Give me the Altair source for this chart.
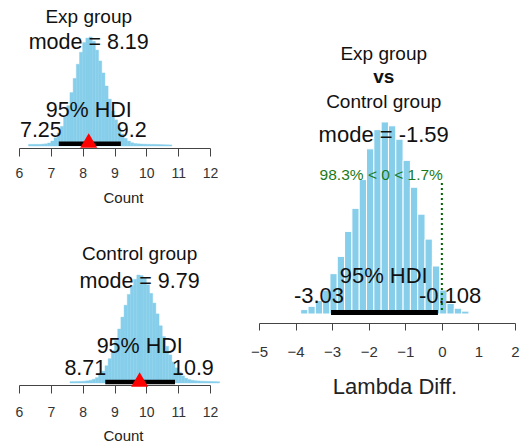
import altair as alt
import pandas as pd

FONT = "Liberation Sans"
SKY = "#87CEEB"
INK = "#111111"

# ---------------- data ----------------
exp_bin_lo = [6.3, 6.4, 6.5, 6.6, 6.7, 6.8, 6.9, 7.0, 7.1, 7.2, 7.3, 7.4, 7.5, 7.6, 7.7,
              7.8, 7.9, 8.0, 8.1, 8.2, 8.3, 8.4, 8.5, 8.6, 8.7, 8.8, 8.9, 9.0, 9.1, 9.2,
              9.3, 9.4, 9.5, 9.6, 9.7, 9.8, 9.9, 10.0, 10.1, 10.2, 10.3, 10.4, 10.5, 10.6, 10.7]
exp_counts = [1.5, 1.5, 1.5, 1.5, 1.7, 2, 2.8, 4.5, 7.5, 12, 18, 26.5, 37, 49, 62,
              75, 86, 95, 99, 100, 96, 88, 78, 67, 55, 43, 32, 24, 16.5, 11,
              7, 4.5, 3, 2.3, 2, 1.8, 1.7, 1.6, 1.5, 1.5, 1.4, 1.3, 1.2, 1.1, 1.0]
exp_bin_w = 0.1

ctrl_bin_lo = [7.6, 7.7, 7.8, 7.9, 8.0, 8.1, 8.2, 8.3, 8.4, 8.5, 8.6, 8.7, 8.8, 8.9, 9.0,
               9.1, 9.2, 9.3, 9.4, 9.5, 9.6, 9.7, 9.8, 9.9, 10.0, 10.1, 10.2, 10.3, 10.4,
               10.5, 10.6, 10.7, 10.8, 10.9, 11.0, 11.1, 11.2, 11.3, 11.4, 11.5, 11.6, 11.7,
               11.8, 11.9, 12.0, 12.1, 12.2]
ctrl_counts = [1.3, 1.3, 1.4, 1.5, 1.7, 2, 2.5, 3.5, 5, 7.6, 11, 16, 22.5, 30, 39.5,
               50, 61, 72, 82, 90, 96, 100, 99.5, 97, 91, 83, 74, 64, 53,
               43, 34, 26, 19.5, 14, 10, 6.6, 4.5, 3.2, 2.5, 2.1, 1.9, 1.7,
               1.6, 1.5, 1.4, 1.3, 1.2]
ctrl_bin_w = 0.1

diff_bin_lo = [-3.86, -3.66, -3.46, -3.26, -3.06, -2.86, -2.66, -2.46, -2.26, -2.06, -1.86,
               -1.66, -1.46, -1.26, -1.06, -0.86, -0.66, -0.46, -0.26, -0.06, 0.14, 0.34, 0.54]
diff_counts = [2.3, 4, 7, 12.5, 21, 30, 43, 55, 70, 86, 96,
               100, 98, 91, 80, 66, 52, 39, 25, 12.5, 5.5, 3, 1.5]
diff_bin_w = 0.2

exp_mode, exp_hdi = 8.19, (7.25, 9.2)
ctrl_mode, ctrl_hdi = 9.79, (8.71, 10.9)
diff_mode, diff_hdi = -1.59, (-3.03, -0.108)
comp_val = 0
pct_below, pct_above = 98.3, 1.7

left_ticks = [6, 7, 8, 9, 10, 11, 12]
right_ticks = [-5, -4, -3, -2, -1, 0, 1, 2]


def hist_df(lo, counts, w):
    return pd.DataFrame({"x": lo, "x2": [v + w for v in lo], "n": counts})


def one(v):
    return pd.DataFrame({"x": [v]})


def make_x(dom, ticks, title, title_size, label_size, label_pad, tick_size, offset, tx, ty):
    ax = alt.Axis(
        values=ticks, title=title, format="d", grid=False,
        labelFont=FONT, labelFontSize=label_size, labelColor="#333333",
        labelBaseline="alphabetic", labelPadding=label_pad, labelFlush=False,
        labelOverlap=False, tickSize=tick_size, tickColor="#444444",
        domainColor="#444444", tickWidth=1, domainWidth=1, offset=offset,
        titleFont=FONT, titleFontSize=title_size, titleFontWeight="normal",
        titleColor="#222222", titleX=tx, titleY=ty, titleBaseline="alphabetic",
        titleAlign="center",
    )
    return alt.X("x:Q", scale=alt.Scale(domain=dom, nice=False, zero=False), axis=ax)


def bars(df, xe, ymax, stroke, sw):
    return alt.Chart(df).mark_bar(color=SKY, stroke=stroke, strokeWidth=sw).encode(
        x=xe,
        x2="x2:Q",
        y=alt.Y("n:Q", scale=alt.Scale(domain=[0, ymax], nice=False), axis=None),
        y2=alt.datum(0),
    )


def txt(xe, v, s, y, size, align="center", dx=0, weight="normal", color=INK):
    return alt.Chart(one(v)).mark_text(
        text=s, font=FONT, fontSize=size, fontWeight=weight, color=color,
        align=align, baseline="alphabetic", dx=dx
    ).encode(x=xe, y=alt.value(y))


def hdi_rule(xe, lo, hi, y, w):
    return alt.Chart(pd.DataFrame({"x": [lo], "x2": [hi]})).mark_rule(
        color="black", strokeWidth=w, strokeCap="butt"
    ).encode(x=xe, x2="x2:Q", y=alt.value(y))


def mode_tri(xe, v, y):
    return alt.Chart(one(v)).mark_point(
        shape="triangle-up", filled=True, color="red", size=289, opacity=1, strokeWidth=0
    ).encode(x=xe, y=alt.value(y))


# ---------------- panel A: Exp group ----------------
xa = make_x([6, 12], left_ticks, "Count", 15, 14, 21, 8, 2, 104, 54)
A = alt.layer(
    bars(hist_df(exp_bin_lo, exp_counts, exp_bin_w), xa, 133.9, SKY, 0.4),
    hdi_rule(xa, exp_hdi[0], exp_hdi[1], 143.7, 4.5),
    txt(xa, exp_mode, "Exp group", 22.5, 19),
    txt(xa, exp_mode, f"mode = {exp_mode}", 48.5, 21.5),
    txt(xa, exp_mode, "95% HDI", 116.5, 21.5),
    txt(xa, exp_hdi[0], f"{exp_hdi[0]}", 136.5, 21.5, align="right", dx=3),
    txt(xa, exp_hdi[1], f"{exp_hdi[1]}", 136.5, 21.5, align="left", dx=-4),
    mode_tri(xa, exp_mode, 140.5),
).properties(width=191, height=146)

# ---------------- panel B: Control group ----------------
xb = make_x([6, 12], left_ticks, "Count", 15, 14, 23, 8, 2, 104, 55)
B = alt.layer(
    bars(hist_df(ctrl_bin_lo, ctrl_counts, ctrl_bin_w), xb, 132.4, SKY, 0.4),
    hdi_rule(xb, ctrl_hdi[0], ctrl_hdi[1], 142, 4.5),
    txt(xb, ctrl_mode, "Control group", 20, 19),
    txt(xb, ctrl_mode, f"mode = {ctrl_mode}", 48, 21.5),
    txt(xb, ctrl_mode, "95% HDI", 113, 21.5),
    txt(xb, ctrl_hdi[0], f"{ctrl_hdi[0]}", 135, 21.5, align="right", dx=1),
    txt(xb, ctrl_hdi[1], f"{ctrl_hdi[1]}", 135, 21.5, align="left", dx=-3),
    mode_tri(xb, ctrl_mode, 139.5),
).properties(width=191, height=143)

# ---------------- panel C: difference ----------------
xc = make_x([-5, 2], right_ticks, "Lambda Diff.", 22, 15, 26.5, 7, 9, 135.5, 70)
comp_line = alt.Chart(one(comp_val)).mark_rule(
    color="darkgreen", strokeWidth=2, strokeDash=[2, 3]
).encode(x=xc, y=alt.value(183), y2=alt.value(313))

C = alt.layer(
    bars(hist_df(diff_bin_lo, diff_counts, diff_bin_w), xc, 163.5, "white", 1),
    comp_line,
    hdi_rule(xc, diff_hdi[0], diff_hdi[1], 312.5, 5),
    txt(xc, diff_mode, "Exp group", 60, 19),
    txt(xc, diff_mode, "vs", 83.3, 19, weight="bold"),
    txt(xc, diff_mode, "Control group", 108.3, 19),
    txt(xc, diff_mode, f"mode = {diff_mode}", 141.7, 22),
    txt(xc, comp_val, f"{pct_below}% < {comp_val} < {pct_above}%", 180, 15.5,
        align="right", dx=1, color="#1a7a1a"),
    txt(xc, diff_mode, "95% HDI", 283, 22),
    txt(xc, diff_hdi[0], f"{diff_hdi[0]}", 303, 22, align="right", dx=13),
    txt(xc, diff_hdi[1], f"{diff_hdi[1]}", 303, 22, align="left", dx=-19),
).properties(width=256, height=314)

chart = alt.hconcat(
    alt.vconcat(A, B, spacing=94, bounds="flush"),
    C,
    spacing=30,
).properties(
    padding={"left": 15, "top": 0, "right": 0, "bottom": 0},
    autosize=alt.AutoSizeParams(type="pad"),
).configure(background="white").configure_view(stroke=None)

chart.save("out.html", embed_options={"renderer": "svg", "actions": False})
